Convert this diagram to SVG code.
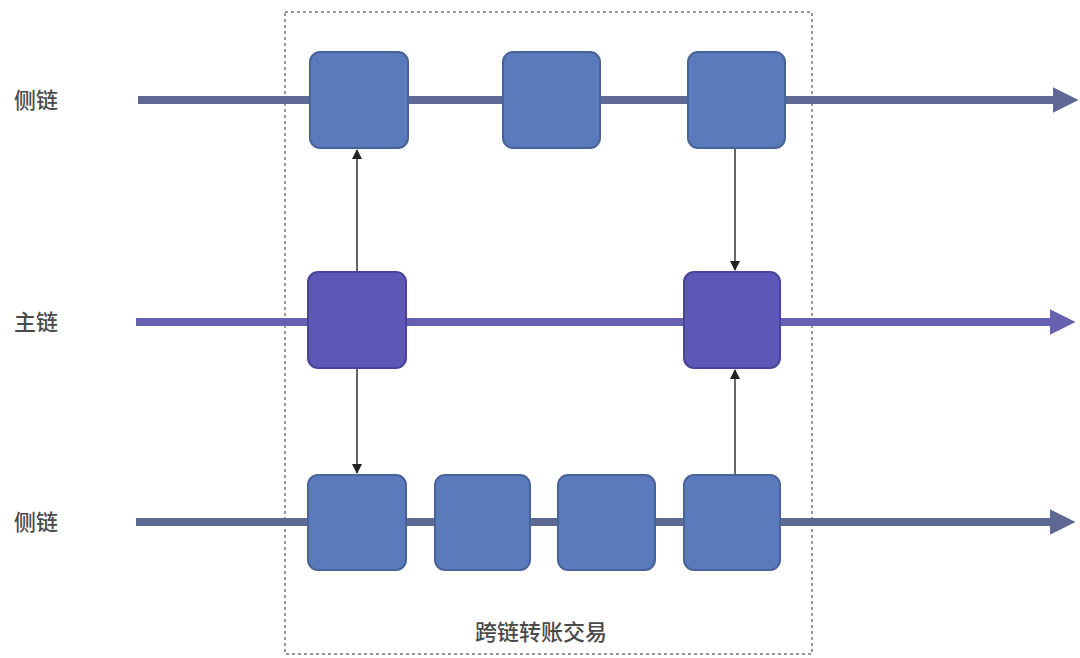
<svg xmlns="http://www.w3.org/2000/svg" width="1080" height="658" viewBox="0 0 1080 658">
<style>
.lbl{font-family:"Noto Sans CJK SC","Noto Sans",sans-serif;font-size:22px;fill:#4a4a4a;font-weight:500;}
.side{fill:#5a7abb;stroke:#48639a;stroke-width:2;}
.main{fill:#5d57b8;stroke:#47449a;stroke-width:2;}
.chain{stroke-width:8;fill:none;}
.link{stroke:#666;stroke-width:2;fill:none;}
</style>
<defs>
<marker id="big1" viewBox="0 0 10 10" refX="2" refY="5" markerWidth="3.2" markerHeight="4" orient="auto" markerUnits="strokeWidth"><path d="M0,0 L10,5 L0,10 z" fill="#5d6992"/></marker>
<marker id="big2" viewBox="0 0 10 10" refX="2" refY="5" markerWidth="3.2" markerHeight="4" orient="auto" markerUnits="strokeWidth"><path d="M0,0 L10,5 L0,10 z" fill="#6660b0"/></marker>
<marker id="sm" viewBox="0 0 10 10" refX="9" refY="5" markerWidth="5" markerHeight="5" orient="auto" markerUnits="strokeWidth"><path d="M0,0 L10,5 L0,10 z" fill="#222"/></marker>
</defs>
<rect id="frame" x="285" y="12" width="527" height="642" fill="none" stroke="#777" stroke-width="1.5" stroke-dasharray="3,3"/>
<g id="chains">
<line class="chain" x1="138" y1="100" x2="1058" y2="100" stroke="#5d6992" marker-end="url(#big1)"/>
<line class="chain" x1="136" y1="322" x2="1055" y2="322" stroke="#6660b0" marker-end="url(#big2)"/>
<line class="chain" x1="136" y1="522" x2="1055" y2="522" stroke="#5d6992" marker-end="url(#big1)"/>
</g>
<g id="labels">
<text class="lbl" x="14" y="108">侧链</text>
<text class="lbl" x="14" y="330">主链</text>
<text class="lbl" x="14" y="530">侧链</text>
</g>
<g id="connectors">
<line class="link" x1="357" y1="272" x2="357" y2="150" marker-end="url(#sm)"/>
<line class="link" x1="357" y1="368" x2="357" y2="473" marker-end="url(#sm)"/>
<line class="link" x1="735" y1="148" x2="735" y2="270" marker-end="url(#sm)"/>
<line class="link" x1="735" y1="475" x2="735" y2="370" marker-end="url(#sm)"/>
</g>
<g id="s1a"><rect class="side" x="310" y="52" width="98" height="96" rx="10"/></g>
<g id="s1b"><rect class="side" x="503" y="52" width="97" height="96" rx="10"/></g>
<g id="s1c"><rect class="side" x="688" y="52" width="97" height="96" rx="10"/></g>
<g id="m1"><rect class="main" x="308" y="272" width="98" height="96" rx="10"/></g>
<g id="m2"><rect class="main" x="684" y="272" width="96" height="96" rx="10"/></g>
<g id="s2a"><rect class="side" x="308" y="475" width="98" height="95" rx="10"/></g>
<g id="s2b"><rect class="side" x="435" y="475" width="95" height="95" rx="10"/></g>
<g id="s2c"><rect class="side" x="558" y="475" width="97" height="95" rx="10"/></g>
<g id="s2d"><rect class="side" x="684" y="475" width="96" height="95" rx="10"/></g>
<g id="caption"><text class="lbl" x="541" y="640" text-anchor="middle">跨链转账交易</text></g>
</svg>
